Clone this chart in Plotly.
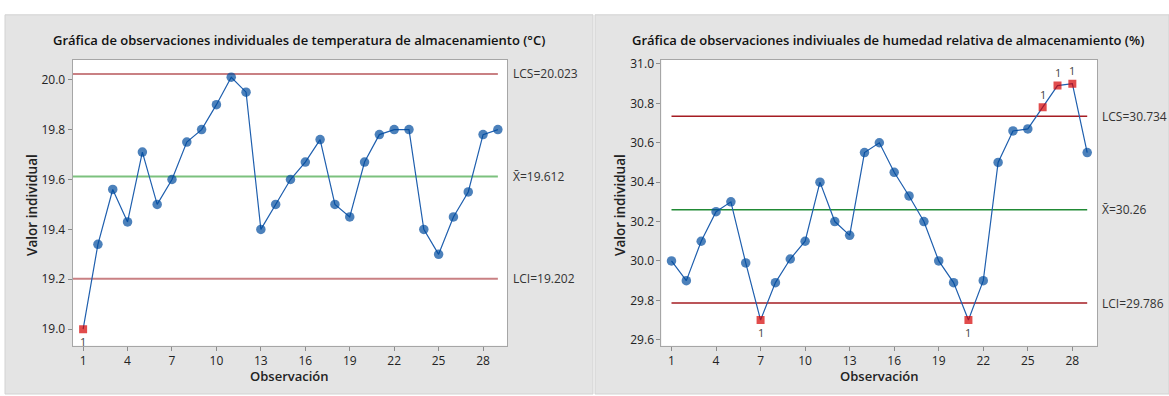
import plotly.graph_objects as go

# ---------------- data ----------------
obs = list(range(1, 30))
temp = [19.00, 19.34, 19.56, 19.43, 19.71, 19.50, 19.60, 19.75, 19.80, 19.90,
        20.01, 19.95, 19.40, 19.50, 19.60, 19.67, 19.76, 19.50, 19.45, 19.67,
        19.78, 19.80, 19.80, 19.40, 19.30, 19.45, 19.55, 19.78, 19.80]
hum = [30.00, 29.90, 30.10, 30.25, 30.30, 29.99, 29.70, 29.89, 30.01, 30.10,
       30.40, 30.20, 30.13, 30.55, 30.60, 30.45, 30.33, 30.20, 30.00, 29.89,
       29.70, 29.90, 30.50, 30.66, 30.67, 30.78, 30.89, 30.90, 30.55]
temp_limits = {"LCS": 20.023, "X": 19.612, "LCI": 19.202}
hum_limits = {"LCS": 30.734, "X": 30.26, "LCI": 29.786}
x_ticks = [1, 4, 7, 10, 13, 16, 19, 22, 25, 28]
temp_yticks = [19.0, 19.2, 19.4, 19.6, 19.8, 20.0]
hum_yticks = [29.6, 29.8, 30.0, 30.2, 30.4, 30.6, 30.8, 31.0]
titles = ["Gráfica de observaciones individuales de temperatura de almacenamiento (°C)",
          "Gráfica de observaciones indiviuales de humedad relativa de almacenamiento (%)"]

W, H = 1169, 396
FONT = "Open Sans"
BLUE = "#004C9E"
RED = "#D40000"

fig = go.Figure()

def px_x(p):
    return p / W

def px_y(p):
    return (H - p) / H

panels = [
    dict(vals=temp, lim=temp_limits, yt=temp_yticks, yr=[18.933, 20.079], xr=[0.29, 29.63],
         plot=(72.6, 507.2), bg=(5, 593), title=titles[0], tx=299,
         ucl_col="#C98083", cl_col="#7CC17E", lw=2.2, line_x0=0.29, ytitle_x=32),
    dict(vals=hum, lim=hum_limits, yt=hum_yticks, yr=[29.569, 31.02], xr=[0.32, 29.66],
         plot=(661.4, 1097.0), bg=(595, 1169), title=titles[1], tx=888,
         ucl_col="#A51C22", cl_col="#218A35", lw=1.5, line_x0=1, ytitle_x=620),
]

shapes = []
annotations = []
top, bot = 56, 347
for i, p in enumerate(panels):
    xa = "x" if i == 0 else "x2"
    ya = "y" if i == 0 else "y2"
    axn = "" if i == 0 else "2"
    # panel background
    shapes.append(dict(type="rect", xref="paper", yref="paper", layer="below",
                       x0=px_x(p["bg"][0]), x1=px_x(p["bg"][1]), y0=0, y1=px_y(10),
                       fillcolor="#E4E4E4", line=dict(color="#D2D2D2", width=1)))
    shapes.append(dict(type="rect", xref="paper", yref="paper", layer="below",
                       x0=px_x(p["plot"][0]), x1=px_x(p["plot"][1]), y0=px_y(bot), y1=px_y(top),
                       fillcolor="white", line=dict(width=0)))
    vals = p["vals"]
    lim = p["lim"]
    out = [v > lim["LCS"] or v < lim["LCI"] for v in vals]
    fig.add_trace(go.Scatter(
        x=obs, y=vals, mode="lines+markers", xaxis=xa, yaxis=ya,
        line=dict(color="#1F5FAE", width=1.2),
        marker=dict(symbol=["square" if o else "circle" for o in out],
                    color=[RED if o else BLUE for o in out],
                    size=[8 if o else 9.5 for o in out], line=dict(width=0)),
        showlegend=False, hoverinfo="x+y"))
    # limit lines
    for key, col in (("LCS", p["ucl_col"]), ("X", p["cl_col"]), ("LCI", p["ucl_col"])):
        shapes.append(dict(type="line", xref=xa, yref=ya, layer="below",
                           x0=p["line_x0"], x1=29, y0=lim[key], y1=lim[key],
                           line=dict(color=col, width=p["lw"])))
        label = ("X\u0304=" if key == "X" else key + "=") + f"{lim[key]:g}"
        annotations.append(dict(xref=xa + " domain", yref=ya, x=1.008, y=lim[key],
                                xanchor="left", yanchor="middle", showarrow=False,
                                text=label, font=dict(family=FONT, size=12, color="#333333")))
    # "1" flags
    for o, xo, v in zip(out, obs, vals):
        if o:
            up = v > lim["LCS"]
            annotations.append(dict(xref=xa, yref=ya, x=xo, y=v, showarrow=False,
                                    text="1", yshift=(13 if up else -12),
                                    font=dict(family=FONT, size=11, color="#444444")))
    # titles
    annotations.append(dict(xref="paper", yref="paper", x=px_x(p["tx"]), y=px_y(36),
                            xanchor="center", yanchor="middle", showarrow=False,
                            text=p["title"],
                            font=dict(family=FONT, size=13, color="#111111", weight=600)))
    annotations.append(dict(xref="paper", yref="paper", x=px_x((p["plot"][0] + p["plot"][1]) / 2),
                            y=px_y(378), xanchor="center", yanchor="middle", showarrow=False,
                            text="Observación",
                            font=dict(family=FONT, size=13, color="#222222", weight=600)))
    annotations.append(dict(xref="paper", yref="paper", x=px_x(p["ytitle_x"]),
                            y=px_y((top + bot) / 2 + 2), xanchor="center", yanchor="middle",
                            showarrow=False, textangle=-90, text="Valor individual",
                            font=dict(family=FONT, size=13.5, color="#222222", weight=600)))
    axis_common = dict(showgrid=False, zeroline=False, showline=True, mirror=True,
                       linecolor="#A6A6A6", linewidth=1, ticks="outside", ticklen=4,
                       tickcolor="#8C8C8C", tickfont=dict(family=FONT, size=12, color="#222222"))
    fig.update_layout(**{
        "xaxis" + axn: dict(domain=[px_x(p["plot"][0]), px_x(p["plot"][1])], range=p["xr"],
                            tickvals=x_ticks, anchor="y" + axn, **axis_common),
        "yaxis" + axn: dict(domain=[px_y(bot), px_y(top)], range=p["yr"],
                            tickvals=p["yt"], ticktext=[f"{t:.1f}" for t in p["yt"]],
                            anchor="x" + axn, **axis_common),
    })

fig.update_layout(width=W, height=H, margin=dict(l=0, r=0, t=0, b=0),
                  paper_bgcolor="white", plot_bgcolor="white",
                  shapes=shapes, annotations=annotations)
fig.write_html("out.html", config={"displayModeBar": False},
               post_script="document.body.style.margin='0';document.body.style.overflow='hidden';")
